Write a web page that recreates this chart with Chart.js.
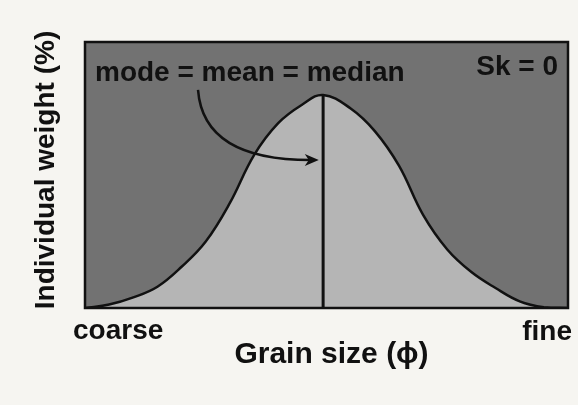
<!DOCTYPE html>
<html>
<head>
<meta charset="utf-8">
<script src="https://cdn.jsdelivr.net/npm/chart.js@4"></script>
<style>
  html, body { margin: 0; padding: 0; background: #f6f5f1; }
  #wrap { width: 578px; height: 405px; }
</style>
</head>
<body>
<div id="wrap"><canvas id="myChart"></canvas></div>
<script>
// grain size position across the plot (0 = coarse, 100 = fine) and relative weight
const grainSize = [0, 5, 10, 15, 20, 25, 30, 35, 40, 45, 49.3, 55, 60, 65, 70, 75, 80, 85, 90, 95, 100];
const weight    = [0, 1.3, 4, 8, 15.5, 25, 39.5, 57.5, 69.5, 76.5, 80.1, 75, 66.5, 53.5, 35, 22, 13.5, 7.5, 2.5, 0.3, 0];

const peakX = 49.3;
const peakY = 80.1;

// arrow from the label to the centre line (start, bend, tip)
const arrowX = [23.4, 24.5, 48.4];
const arrowY = [82, 55.6, 55.6];

const labelFont = '"Liberation Sans", Arial, Helvetica, sans-serif';

const curve = grainSize.map((x, i) => ({ x: x, y: weight[i] }));

const panelPlugin = {
    id: 'panel',
    beforeDraw(chart) {
        const { ctx, chartArea: a } = chart;
        ctx.save();
        ctx.fillStyle = '#727272';
        ctx.fillRect(a.left, a.top, a.right - a.left, a.bottom - a.top);
        ctx.restore();
    },
    afterDraw(chart) {
        const { ctx, chartArea: a, scales } = chart;
        const xs = scales.x, ys = scales.y;
        ctx.save();

        // frame
        ctx.strokeStyle = '#111';
        ctx.lineWidth = 2.5;
        ctx.strokeRect(a.left, a.top, a.right - a.left, a.bottom - a.top);

        // curved arrow
        const p0 = [xs.getPixelForValue(arrowX[0]), ys.getPixelForValue(arrowY[0])];
        const p1 = [xs.getPixelForValue(arrowX[1]), ys.getPixelForValue(arrowY[1])];
        const p2 = [xs.getPixelForValue(arrowX[2]), ys.getPixelForValue(arrowY[2])];
        ctx.lineWidth = 2.5;
        ctx.beginPath();
        ctx.moveTo(p0[0], p0[1]);
        ctx.quadraticCurveTo(p1[0], p1[1], p2[0] - 8, p2[1]);
        ctx.stroke();
        ctx.fillStyle = '#111';
        ctx.beginPath();
        ctx.moveTo(p2[0], p2[1]);
        ctx.lineTo(p2[0] - 14, p2[1] - 6);
        ctx.lineTo(p2[0] - 10, p2[1]);
        ctx.lineTo(p2[0] - 14, p2[1] + 6);
        ctx.closePath();
        ctx.fill();

        // texts
        ctx.fillStyle = '#111';
        ctx.font = 'bold 28px ' + labelFont;
        ctx.textBaseline = 'alphabetic';
        ctx.textAlign = 'left';
        ctx.fillText('mode = mean = median', a.left + 10, a.top + 39);
        ctx.textAlign = 'right';
        ctx.fillText('Sk = 0', a.right - 10, a.top + 33);

        ctx.textAlign = 'left';
        ctx.fillText('coarse', a.left - 12, a.bottom + 31);
        ctx.textAlign = 'right';
        ctx.fillText('fine', a.right + 4, a.bottom + 32);

        ctx.font = 'bold 30px ' + labelFont;
        ctx.textAlign = 'center';
        ctx.fillText('Grain size (\u03D5)', (a.left + a.right) / 2 + 5, a.bottom + 55);

        ctx.translate(a.left - 31, (a.top + a.bottom) / 2 - 5);
        ctx.rotate(-Math.PI / 2);
        ctx.font = 'bold 28px ' + labelFont;
        ctx.fillText('Individual weight (%)', 0, 0);

        ctx.restore();
    }
};

const ctx = document.getElementById('myChart').getContext('2d');

const myChart = new Chart(ctx, {
    type: 'scatter',
    data: {
        datasets: [{
            label: 'Weight',
            data: curve,
            showLine: true,
            fill: 'origin',
            backgroundColor: '#b5b5b5',
            borderColor: '#111',
            borderWidth: 2.5,
            pointRadius: 0,
            tension: 0.4,
            order: 2
        }, {
            label: 'Centre',
            data: [{ x: peakX, y: 0 }, { x: peakX, y: peakY }],
            showLine: true,
            fill: false,
            borderColor: '#111',
            borderWidth: 3,
            pointRadius: 0,
            order: 1
        }]
    },
    options: {
        responsive: true,
        maintainAspectRatio: false,
        animation: false,
        layout: { padding: { left: 85, right: 10, top: 42, bottom: 97 } },
        plugins: {
            legend: { display: false },
            tooltip: { enabled: false }
        },
        scales: {
            x: { type: 'linear', min: 0, max: 100, display: false },
            y: { min: 0, max: 100, display: false }
        }
    },
    plugins: [panelPlugin]
});
</script>
</body>
</html>
